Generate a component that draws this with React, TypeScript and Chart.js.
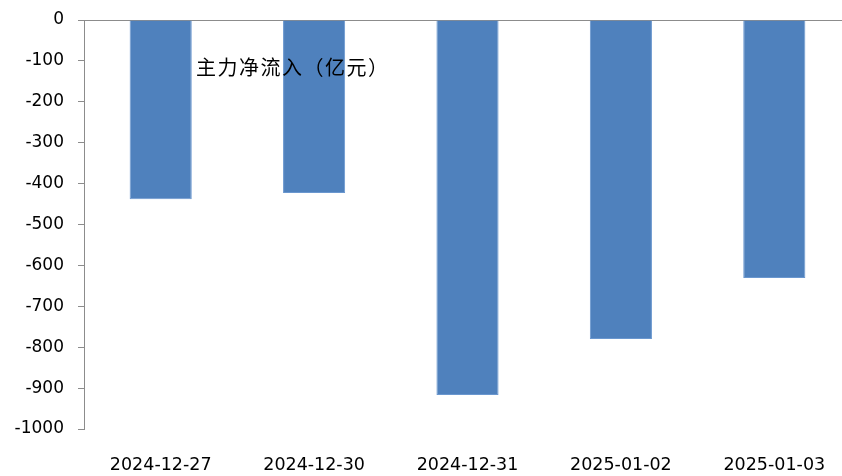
import React, { useEffect, useRef } from "react";
import { Chart, registerables } from "chart.js";

Chart.register(...registerables);

const categories = ["2024-12-27", "2024-12-30", "2024-12-31", "2025-01-02", "2025-01-03"];
const netInflow = [-438, -423, -917, -780, -631];
const seriesLabel = "主力净流入（亿元）";
const yMin = -1000;
const yMax = 0;
const yStep = 100;

const titlePlugin = {
  id: "innerTitle",
  afterDatasetsDraw(chart: any) {
    const ctx = chart.ctx;
    ctx.save();
    ctx.font = '20px "Noto Sans CJK SC", sans-serif';
    try {
      (ctx as any).letterSpacing = "1.5px";
    } catch (e) {}
    ctx.fillStyle = "#000";
    ctx.textAlign = "left";
    ctx.textBaseline = "middle";
    ctx.fillText(seriesLabel, 196, 67);
    ctx.restore();
  },
};

export default function App() {
  const ref = useRef<HTMLCanvasElement | null>(null);
  useEffect(() => {
    if (!ref.current) return;
    const chart = new Chart(ref.current, {
      type: "bar",
      data: {
        labels: categories,
        datasets: [
          {
            label: seriesLabel,
            data: netInflow,
            backgroundColor: "#4F81BD",
            borderColor: "#6A97CF",
            borderWidth: 1,
            categoryPercentage: 1,
            barPercentage: 0.405,
          },
        ],
      },
      options: {
        animation: false,
        responsive: false,
        devicePixelRatio: 1,
        layout: { padding: { top: 20, right: 2, left: 0, bottom: 1 } },
        plugins: { legend: { display: false }, tooltip: { enabled: false }, title: { display: false } },
        scales: {
          x: {
            afterFit: (scale: any) => {
              scale.height = 46;
              scale.paddingLeft = 0;
              scale.paddingRight = 0;
            },
            grid: { display: false, drawTicks: false },
            border: { display: false },
            ticks: {
              color: "#000",
              padding: 26,
              maxRotation: 0,
              font: { family: '"DejaVu Sans", sans-serif', size: 17.5 },
            },
          },
          y: {
            min: yMin,
            max: yMax,
            afterFit: (scale: any) => {
              scale.width = 84;
              scale.paddingTop = 0;
              scale.paddingBottom = 0;
            },
            border: { display: true, color: "#8c8c8c", width: 1 },
            grid: {
              drawTicks: true,
              tickLength: 6,
              tickColor: "#8c8c8c",
              color: (c: any) => (c.tick && c.tick.value === 0 ? "#8c8c8c" : "rgba(0,0,0,0)"),
            },
            ticks: {
              stepSize: yStep,
              color: "#000",
              padding: 14,
              font: { family: '"DejaVu Sans", sans-serif', size: 17 },
              callback: (v: any) => String(v),
            },
          },
        },
      },
      plugins: [titlePlugin],
    });
    return () => chart.destroy();
  }, []);
  return (
    <div style={{ position: "fixed", left: 0, top: 0, width: 842, height: 476, overflow: "hidden", background: "#fff" }}>
      <canvas ref={ref} width={853} height={476} style={{ display: "block", width: 853, height: 476 }} />
    </div>
  );
}
